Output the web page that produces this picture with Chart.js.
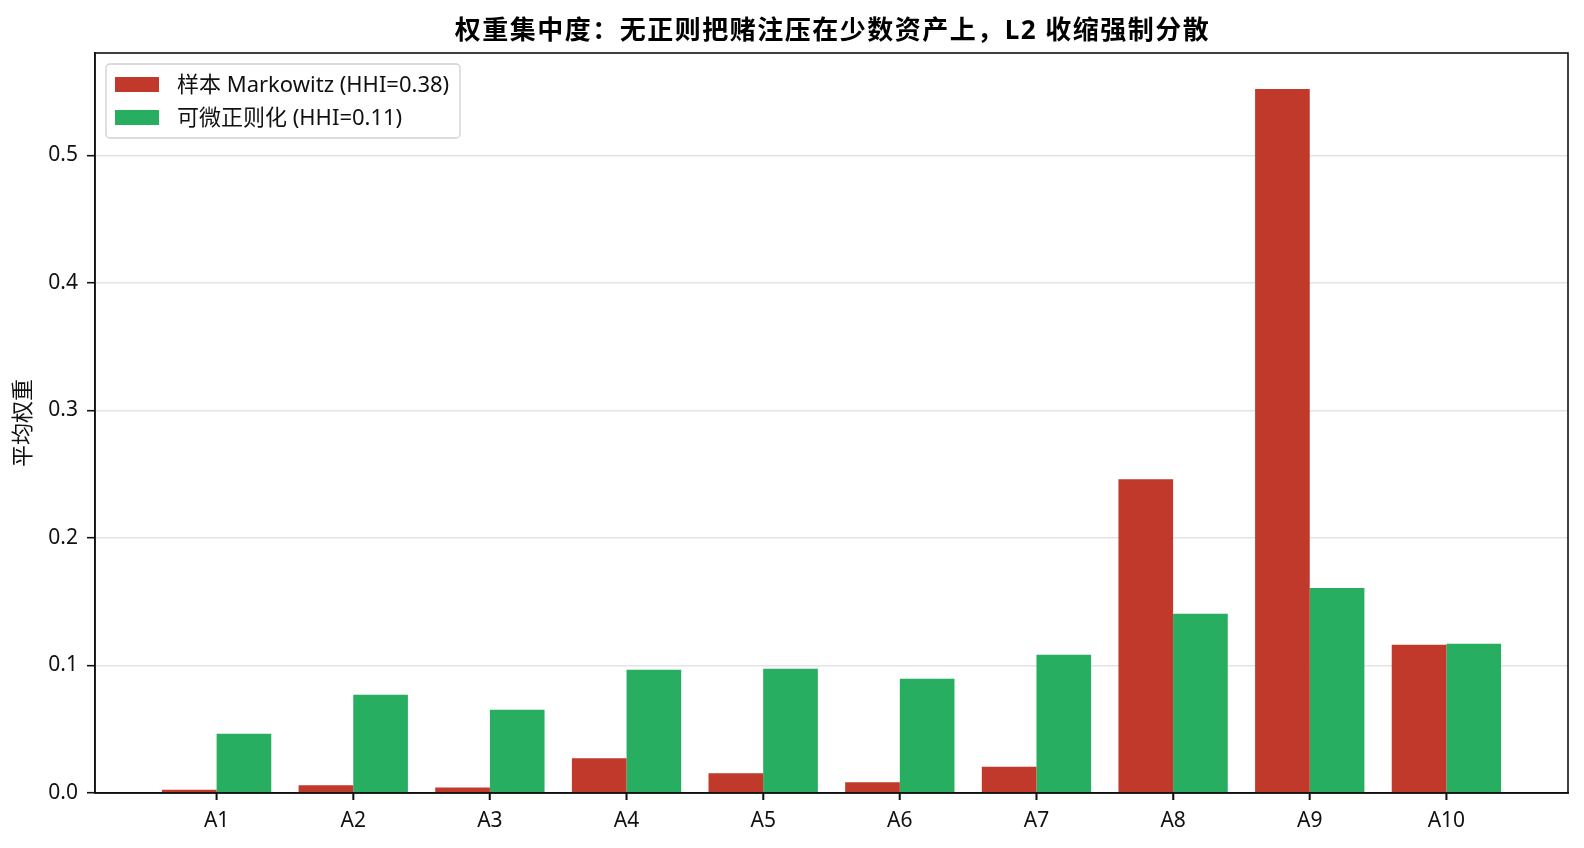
<!DOCTYPE html>
<html>
<head>
<meta charset="utf-8">
<script src="https://cdn.jsdelivr.net/npm/chart.js@4/dist/chart.umd.min.js"></script>
<style>
html,body{margin:0;padding:0;background:#fff;overflow:hidden;width:1584px;height:848px;}
#wrap{width:1584px;height:848px;position:relative;}
canvas{display:block;}
</style>
</head>
<body>
<div id="wrap"><canvas id="c" width="1584" height="848" style="width:1584px;height:848px;"></canvas></div>
<script>
const categories = ['A1','A2','A3','A4','A5','A6','A7','A8','A9','A10'];
const markowitzWeights = [0.0026, 0.0060, 0.0044, 0.0272, 0.0154, 0.0084, 0.0206, 0.2460, 0.5520, 0.1162];
const regularizedWeights = [0.0465, 0.0770, 0.0653, 0.0966, 0.0974, 0.0896, 0.1084, 0.1405, 0.1608, 0.1170];
const seriesLabels = ['样本 Markowitz (HHI=0.38)', '可微正则化 (HHI=0.11)'];
const yTicks = [0, 0.1, 0.2, 0.3, 0.4, 0.5];
const titleText = '权重集中度：无正则把赌注压在少数资产上，L2 收缩强制分散';
const yTitle = '平均权重';

const FONT = "'Noto Sans', 'Noto Sans CJK SC', 'DejaVu Sans', sans-serif";

const frame = {
  id: 'frame',
  afterDraw(chart) {
    const {ctx, chartArea: a} = chart;
    ctx.save();
    // title
    ctx.font = 'bold 26px ' + FONT;
    ctx.fillStyle = '#000';
    ctx.textAlign = 'center';
    ctx.textBaseline = 'middle';
    try { ctx.letterSpacing = '1.5px'; } catch (e) {}
    ctx.fillText(titleText, (a.left + a.right) / 2 + 1, 32);
    try { ctx.letterSpacing = '0px'; } catch (e) {}
    ctx.textAlign = 'left';
    // frame
    ctx.strokeStyle = '#111';
    ctx.lineWidth = 1.6;
    ctx.strokeRect(a.left, a.top, a.right - a.left, a.bottom - a.top);
    // x tick marks
    const xs = chart.scales.x;
    ctx.beginPath();
    xs.ticks.forEach(t => {
      const px = xs.getPixelForValue(t.value);
      ctx.moveTo(px, a.bottom);
      ctx.lineTo(px, a.bottom + 7);
    });
    ctx.stroke();
    // legend
    const x0 = a.left + 11, y0 = a.top + 11, w = 354, h = 74;
    ctx.fillStyle = 'rgba(255,255,255,0.85)';
    ctx.strokeStyle = '#d0d0d0';
    ctx.lineWidth = 1.3;
    ctx.beginPath();
    ctx.roundRect(x0, y0, w, h, 4);
    ctx.fill();
    ctx.stroke();
    ctx.font = '22px ' + FONT;
    ctx.textBaseline = 'middle';
    chart.data.datasets.forEach((ds, i) => {
      const cy = y0 + 20.5 + i * 33;
      ctx.fillStyle = ds.backgroundColor;
      ctx.fillRect(x0 + 9, cy - 7.5, 44, 15);
      ctx.fillStyle = '#111';
      ctx.fillText(ds.label, x0 + 71, cy + 1);
    });
    ctx.restore();
  }
};

new Chart(document.getElementById('c'), {
  type: 'bar',
  data: {
    datasets: [
      { label: seriesLabels[0], data: markowitzWeights.map((v, i) => ({x: i, y: v})), backgroundColor: '#c0392b' },
      { label: seriesLabels[1], data: regularizedWeights.map((v, i) => ({x: i, y: v})), backgroundColor: '#27ae60' }
    ]
  },
  options: {
    responsive: false,
    animation: false,
    devicePixelRatio: 1,
    layout: { autoPadding: false, padding: { left: 0, right: 16, top: 53, bottom: 0 } },
    datasets: { bar: { categoryPercentage: 0.8, barPercentage: 1.0 } },
    plugins: {
      legend: { display: false },
      tooltip: { enabled: false },
      title: { display: false, text: titleText }
    },
    scales: {
      x: {
        type: 'linear',
        min: -0.89,
        max: 9.89,
        offset: false,
        afterBuildTicks(s) { s.ticks = categories.map((c, i) => ({ value: i })); },
        afterFit(s) { s.height = 55; },
        ticks: {
          callback: (v) => categories[v],
          color: '#111',
          font: { family: FONT, size: 21 },
          padding: 8,
          maxRotation: 0,
          autoSkip: false
        },
        grid: { display: true, offset: false, drawOnChartArea: false, tickColor: '#111', tickLength: 7, tickWidth: 1.6 },
        border: { display: true, color: '#111', width: 1.6 }
      },
      y: {
        min: 0,
        max: 0.5802,
        z: 1,
        afterBuildTicks(s) { s.ticks = yTicks.map(v => ({ value: v })); },
        afterFit(s) { s.width = 95; },
        ticks: {
          callback: (v) => v.toFixed(1),
          color: '#111',
          font: { family: FONT, size: 21 },
          padding: 9
        },
        grid: { color: '#e3e3e3', lineWidth: 1.4, tickColor: '#111', tickLength: 8, tickWidth: 1.6 },
        border: { display: true, color: '#111', width: 1.6 },
        title: {
          display: true,
          text: yTitle,
          color: '#111',
          font: { family: FONT, size: 22 },
          padding: { top: 11, bottom: 0 }
        }
      }
    }
  },
  plugins: [frame]
});
</script>
</body>
</html>
